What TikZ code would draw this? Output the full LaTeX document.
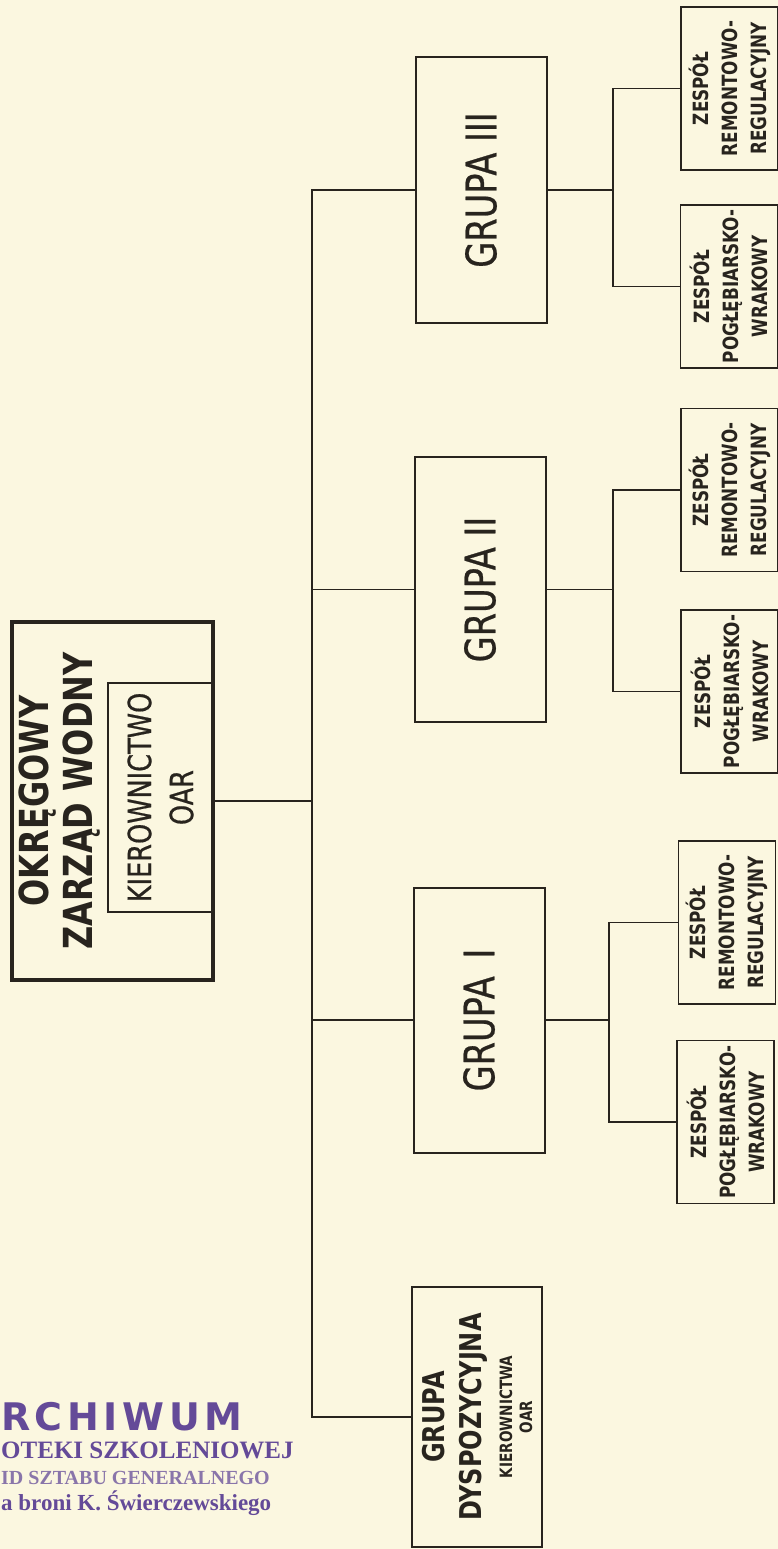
\documentclass[tikz,border=0pt]{standalone}
\usepackage{fontspec}
\usepackage{tikz}
\usetikzlibrary{calc,positioning}
\newfontfamily\lett{DejaVu Sans}[FakeStretch=0.8]
\newfontfamily\lettmid{DejaVu Sans}[FakeStretch=0.8, FakeBold=0.6]
\newfontfamily\stampfont{DejaVu Sans}[LetterSpace=12]
\newfontfamily\stampserif{Liberation Serif}
\definecolor{paper}{RGB}{251,247,224}
\definecolor{ink}{RGB}{40,36,30}
\definecolor{stampink}{RGB}{100,74,152}
\newcommand{\smalllett}{\fontsize{17}{21}\selectfont}
\tikzset{
  box/.style={draw=ink, text=ink, line width=2pt, rotate=90, inner sep=0pt, align=center},
  grpbox/.style={box, minimum width=265pt, minimum height=131pt, font=\lettmid\fontsize{42}{48}\selectfont},
  teambox/.style={box, line width=1.8pt, minimum width=163pt, minimum height=97pt, font=\lett\bfseries\fontsize{21}{29}\selectfont},
  link/.style={draw=ink, line width=1.6pt},
}
\begin{document}
\begin{tikzpicture}[x=1pt, y=-1pt]
  % Paper
  \fill[paper] (0,0) rectangle (778,1549);
  \useasboundingbox (0,0) rectangle (778,1549);
  % Head office with its management box
  \node[box, line width=3.5pt, minimum width=358pt, minimum height=201pt] (okr) at (112.5,801) {};
  \node[box, draw=none, font=\lett\bfseries\fontsize{40}{44}\selectfont] (okrt) at (60,801) {OKRĘGOWY\\ZARZĄD WODNY};
  \node[box, line width=2.6pt, minimum width=229pt, minimum height=105pt, font=\lettmid\fontsize{32}{42}\selectfont] (kier) at (160.5,797.5) {KIEROWNICTWO\\OAR};
  % Groups
  \node[grpbox] (g3) at (481,190) {GRUPA III};
  \node[grpbox] (g2) at (480,589.5) {GRUPA II};
  \node[grpbox] (g1) at (479,1020) {GRUPA \,I};
  \node[box, minimum width=260pt, minimum height=130pt, font=\lett\bfseries\fontsize{30}{37}\selectfont] (gd) at (477,1417)
    {GRUPA\\DYSPOZYCYJNA\\[-6pt]{\smalllett KIEROWNICTWA}\\[-17pt]{\smalllett OAR}};
  % Teams
  \node[teambox] (z3a) at (729.5,88.5) {ZESPÓŁ\\REMONTOWO-\\REGULACYJNY};
  \node[teambox] (z3b) at (729,286.5) {ZESPÓŁ\\POGŁĘBIARSKO-\\WRAKOWY};
  \node[teambox] (z2a) at (729.5,490) {ZESPÓŁ\\REMONTOWO-\\REGULACYJNY};
  \node[teambox] (z2b) at (729.5,691.5) {ZESPÓŁ\\POGŁĘBIARSKO-\\WRAKOWY};
  \node[teambox] (z1a) at (727,922.5) {ZESPÓŁ\\REMONTOWO-\\REGULACYJNY};
  \node[teambox] (z1b) at (725.5,1122) {ZESPÓŁ\\POGŁĘBIARSKO-\\WRAKOWY};
  % Main spine
  \coordinate (sp) at (312,0);
  \draw[link] (okr.south) -- (okr.south -| sp);
  \draw[link] (g3.north) -| (sp |- gd.north) -- (gd.north);
  \draw[link] (g2.north) -- (g2.north -| sp);
  \draw[link] (g1.north) -- (g1.north -| sp);
  % Team spines
  \coordinate (s3) at (613,0);
  \coordinate (s2) at (613,0);
  \coordinate (s1) at (609,0);
  \draw[link] (g3.south) -- (g3.south -| s3);
  \draw[link] (z3a.north) -| (s3 |- z3b.north) -- (z3b.north);
  \draw[link] (g2.south) -- (g2.south -| s2);
  \draw[link] (z2a.north) -| (s2 |- z2b.north) -- (z2b.north);
  \draw[link] (g1.south) -- (g1.south -| s1);
  \draw[link] (z1a.north) -| (s1 |- z1b.north) -- (z1b.north);
  % Archive stamp
  \begin{scope}[stampink]
    \node[anchor=base west, inner sep=0pt, font=\stampfont\bfseries\fontsize{38}{40}\selectfont] (st1) at (1,1430) {RCHIWUM};
    \node[anchor=base west, inner sep=0pt, font=\stampserif\bfseries\fontsize{25}{27}\selectfont] (st2) at (1,1458) {OTEKI SZKOLENIOWEJ};
    \node[anchor=base west, inner sep=0pt, opacity=0.75, font=\stampserif\bfseries\fontsize{20}{22}\selectfont] (st3) at (1,1484) {ID SZTABU GENERALNEGO};
    \node[anchor=base west, inner sep=0pt, font=\stampserif\bfseries\fontsize{23}{25}\selectfont] (st4) at (1,1510) {a broni K. Świerczewskiego};
  \end{scope}
\end{tikzpicture}
\end{document}
